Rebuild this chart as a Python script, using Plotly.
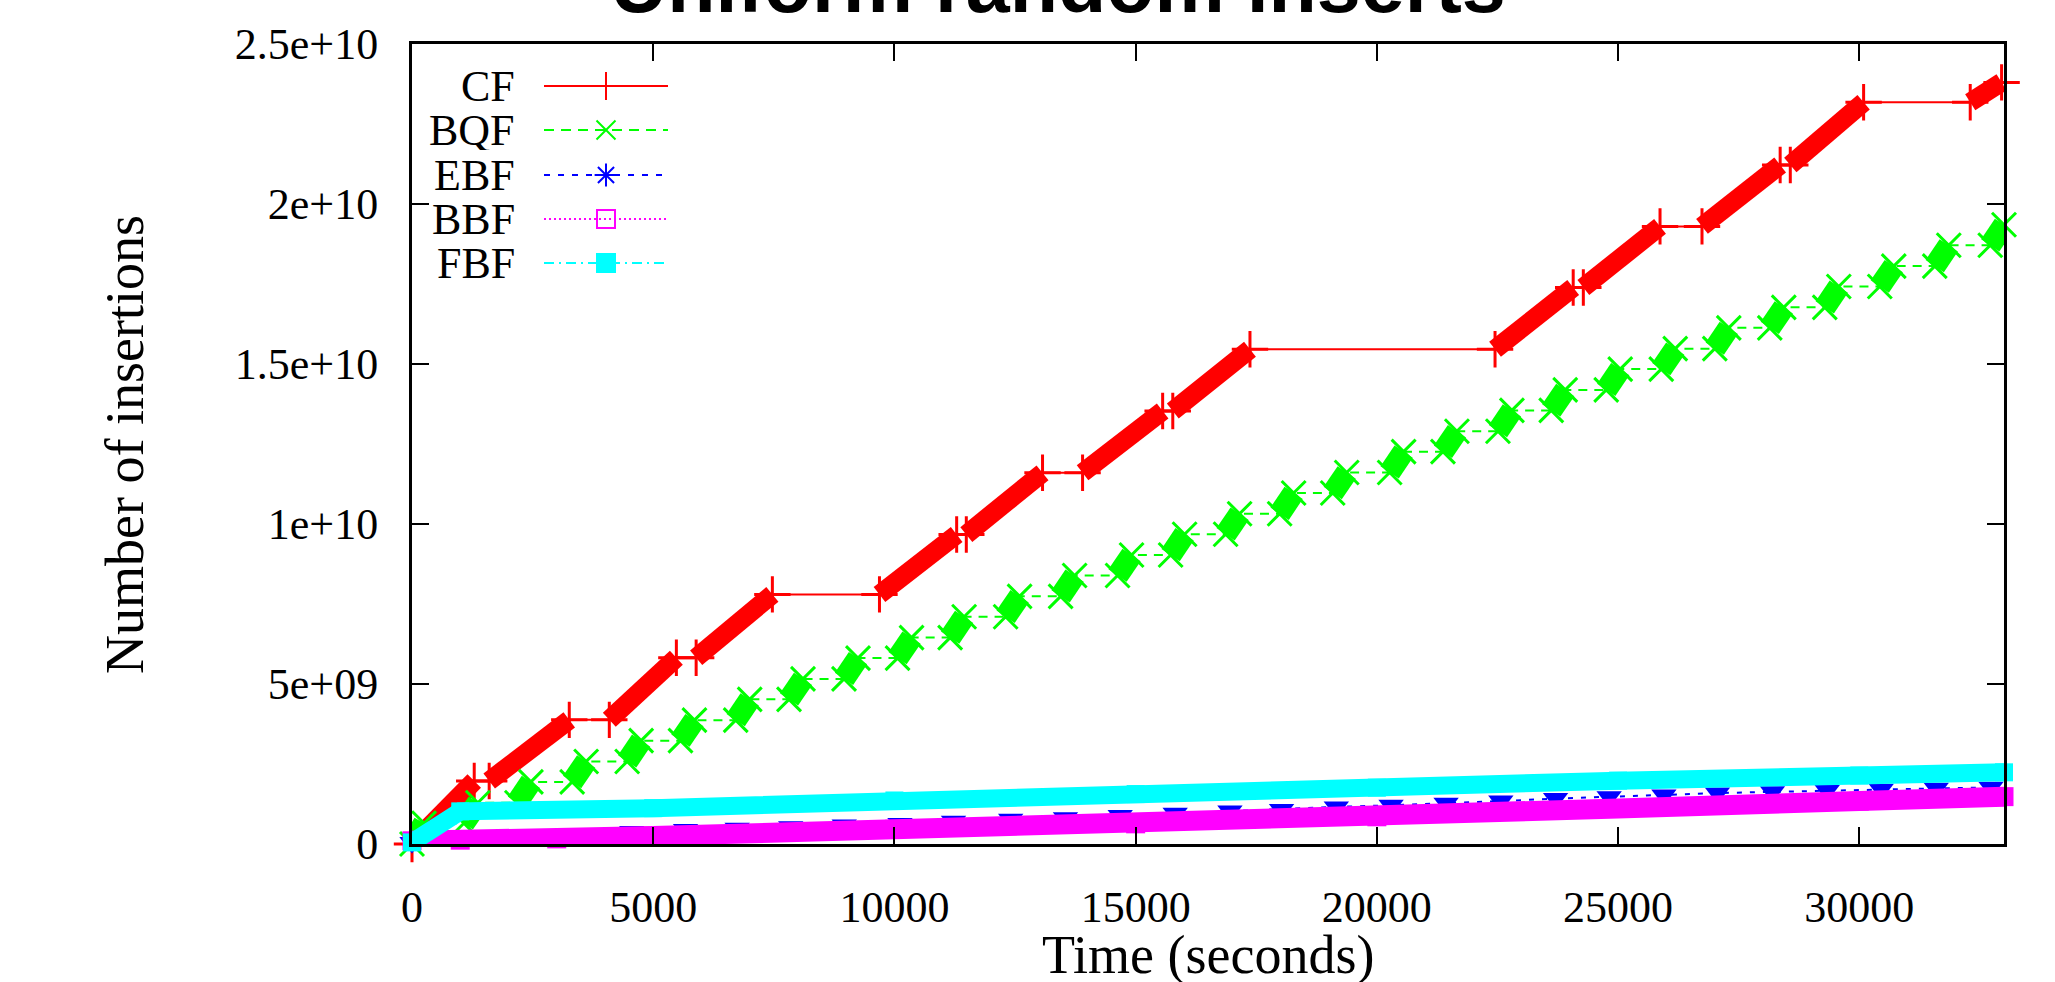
import plotly.graph_objects as go

SCALE = 1e9  # values below are in units of 1e9 insertions

# ---------------- data ----------------
cf_t = [0, 1290, 1600, 3260, 4090, 5480, 5890, 7470, 9690, 11290, 11490, 13070, 13900,
        15560, 15770, 17370, 22450, 24070, 24280, 25870, 26740, 28360, 28570, 30090,
        32300, 32950]
cf_y = [0.00, 1.97, 1.97, 3.88, 3.88, 5.82, 5.82, 7.80, 7.80, 9.67, 9.67, 11.60, 11.60,
        13.53, 13.53, 15.46, 15.46, 17.39, 17.39, 19.30, 19.30, 21.22, 21.22, 23.18,
        23.18, 23.80]

bqf_t = [0, 250, 1075, 1365, 2175, 2465, 3320, 3610, 4460, 4750, 5565, 5855, 6710, 7000,
         7815, 8105, 8955, 9245, 10065, 10355, 11155, 11445, 12305, 12595, 13445, 13735,
         14625, 14915, 15725, 16015, 16865, 17155, 17985, 18275, 19085, 19375, 20265,
         20555, 21370, 21660, 22510, 22800, 23615, 23905, 24755, 25045, 25895, 26185,
         27005, 27295, 28145, 28435, 29285, 29575, 30425, 30715, 31565, 31855, 32715, 33000]
bqf_y = [0.00, 0.65, 0.65, 1.29, 1.29, 1.94, 1.94, 2.58, 2.58, 3.23, 3.23, 3.87,
         3.87, 4.52, 4.52, 5.16, 5.16, 5.81, 5.81, 6.45, 6.45, 7.10, 7.10, 7.74,
         7.74, 8.39, 8.39, 9.03, 9.03, 9.68, 9.68, 10.32, 10.32, 10.97, 10.97, 11.61,
         11.61, 12.26, 12.26, 12.90, 12.90, 13.55, 13.55, 14.19, 14.19, 14.84,
         14.84, 15.48, 15.48, 16.13, 16.13, 16.77, 16.77, 17.42, 17.42, 18.06,
         18.06, 18.71, 18.71, 19.35]

ebf_t = [0, 1220, 2330, 3440, 4555, 5670, 6740, 7850, 8960, 10115, 11225, 12410, 13545,
         14680, 15820, 16955, 18025, 19160, 20295, 21435, 22570, 23705, 24815, 25950,
         27060, 28200, 29335, 30455, 31595, 32730]
ebf_y = [0.05, 0.25, 0.29, 0.33, 0.39, 0.45, 0.49, 0.54, 0.59, 0.64, 0.71, 0.77, 0.82,
         0.89, 0.96, 1.03, 1.08, 1.16, 1.21, 1.27, 1.34, 1.42, 1.48, 1.53, 1.59, 1.63,
         1.67, 1.71, 1.74, 1.77]

bbf_t = [0, 1000, 3000, 5000, 10000, 15000, 20000, 25000, 30000, 33000]
bbf_y = [0.10, 0.12, 0.16, 0.25, 0.46, 0.63, 0.85, 1.11, 1.34, 1.48]

fbf_t = [0, 1000, 5000, 10000, 15000, 20000, 25000, 30000, 33000]
fbf_y = [0.05, 1.02, 1.12, 1.36, 1.56, 1.76, 1.98, 2.14, 2.24]

x_ticks = [0, 5000, 10000, 15000, 20000, 25000, 30000]
y_ticks = [0, 5e9, 1e10, 1.5e10, 2e10, 2.5e10]
y_tick_text = ['0', '5e+09', '1e+10', '1.5e+10', '2e+10', '2.5e+10']
legend_labels = ['CF', 'BQF', 'EBF', 'BBF', 'FBF']

title_text = 'Uniform random inserts'
x_title = 'Time (seconds)'
y_title = 'Number of insertions'

# ---------------- style ----------------
RED, GREEN, BLUE, MAGENTA, CYAN = '#ff0000', '#00ff00', '#0000ff', '#ff00ff', '#00ffff'
SERIF = 'Liberation Serif'
W, H = 2055, 982
ML, MR, MT, MB = 412, 51, 44, 138


def scaled(vals):
    return [v * SCALE for v in vals]


def rises(ts, ys):
    """segments where the series climbs (densely sampled parts, drawn thick)"""
    xs, vs = [], []
    for i in range(len(ts) - 1):
        if ys[i + 1] > ys[i]:
            xs += [ts[i], ts[i + 1], None]
            vs += [ys[i] * SCALE, ys[i + 1] * SCALE, None]
    return xs, vs


fig = go.Figure()

# CF
fig.add_trace(go.Scatter(x=cf_t, y=scaled(cf_y), mode='lines',
                         line=dict(color=RED, width=2), showlegend=False))
rx, ry = rises(cf_t, cf_y)
fig.add_trace(go.Scatter(x=rx, y=ry, mode='lines+markers', cliponaxis=False,
                         line=dict(color=RED, width=19),
                         marker=dict(symbol='cross-thin', size=26, color=RED,
                                     line=dict(color=RED, width=3)),
                         showlegend=False))
# BQF
fig.add_trace(go.Scatter(x=bqf_t, y=scaled(bqf_y), mode='lines',
                         line=dict(color=GREEN, width=2, dash='9px,7px'), showlegend=False))
rx, ry = rises(bqf_t, bqf_y)
fig.add_trace(go.Scatter(x=rx, y=ry, mode='lines+markers', cliponaxis=False,
                         line=dict(color=GREEN, width=22),
                         marker=dict(symbol='x-thin', size=24, color=GREEN,
                                     line=dict(color=GREEN, width=3)),
                         showlegend=False))
# EBF
fig.add_trace(go.Scatter(x=ebf_t, y=scaled(ebf_y), mode='lines+markers', cliponaxis=False,
                         line=dict(color=BLUE, width=2, dash='5px,8px'),
                         marker=dict(symbol='triangle-down', size=22, color=BLUE),
                         showlegend=False))
# BBF
fig.add_trace(go.Scatter(x=bbf_t, y=scaled(bbf_y), mode='lines+markers', cliponaxis=False,
                         line=dict(color=MAGENTA, width=20),
                         marker=dict(symbol='square', size=19, color=MAGENTA),
                         showlegend=False))
# FBF
fig.add_trace(go.Scatter(x=fbf_t, y=scaled(fbf_y), mode='lines+markers', cliponaxis=False,
                         line=dict(color=CYAN, width=18),
                         marker=dict(symbol='square', size=18, color=CYAN),
                         showlegend=False))

# ---------------- gnuplot-style key (text left, sample right) ----------------
# overlay axes in pixel units of the plotting area
row_y = [86, 130, 175, 219, 263]
styles = [
    (RED, 'solid', 'cross-thin', 20),
    (GREEN, '10px,7px', 'x-thin', 19),
    (BLUE, '6px,8px', 'asterisk-open', 19),
    (MAGENTA, '2px,3px', 'square-open', 18),
    (CYAN, '10px,5px,2px,5px', 'square', 18),
]
annotations = []
for lab, ry_, (col, dash, sym, sz) in zip(legend_labels, row_y, styles):
    fig.add_trace(go.Scatter(x=[544, 668], y=[ry_, ry_], xaxis='x2', yaxis='y2',
                             mode='lines', line=dict(color=col, width=2, dash=dash),
                             showlegend=False, hoverinfo='skip'))
    fig.add_trace(go.Scatter(x=[606], y=[ry_], xaxis='x2', yaxis='y2', mode='markers',
                             marker=dict(symbol=sym, size=sz, color=col,
                                         line=dict(color=col, width=2)),
                             showlegend=False, hoverinfo='skip'))
    annotations.append(dict(x=517, y=ry_, xref='x2', yref='y2', text=lab, height=40,
                            showarrow=False, xanchor='right', yanchor='middle',
                            font=dict(family=SERIF, size=44, color='black')))

pw, ph = W - ML - MR, H - MT - MB


def px_x(px):
    return (px - ML) / pw


def px_y(py):
    return (H - MB - py) / ph


annotations.append(dict(x=px_x(1208), y=px_y(955), xref='paper', yref='paper',
                        text=x_title, showarrow=False, xanchor='center', yanchor='middle',
                        height=54,
                        font=dict(family=SERIF, size=54, color='black')))
annotations.append(dict(x=px_x(125), y=px_y(445), xref='paper', yref='paper',
                        text=y_title, showarrow=False, xanchor='center', yanchor='middle',
                        textangle=-90,
                        font=dict(family=SERIF, size=54, color='black')))

axis_common = dict(showline=True, linewidth=3, linecolor='black', mirror='allticks',
                   ticks='inside', ticklen=17, tickwidth=2, tickcolor='black',
                   showgrid=False, zeroline=False,
                   tickfont=dict(family=SERIF, size=44, color='black'))

fig.update_layout(
    width=W, height=H,
    margin=dict(l=ML, r=MR, t=MT, b=MB, pad=0),
    paper_bgcolor='white', plot_bgcolor='white',
    showlegend=False,
    title=dict(text='<b>' + title_text + '</b>', x=1058 / W, xref='container',
               xanchor='center', y=1 - 12 / H, yref='container', yanchor='bottom',
               font=dict(family='Liberation Sans', size=79, color='black')),
    xaxis=dict(range=[0, 33000], tickvals=x_ticks, ticktext=[str(v) for v in x_ticks],
               ticklabelstandoff=22, **axis_common),
    yaxis=dict(range=[0, 2.5e10], tickvals=y_ticks, ticktext=y_tick_text,
               ticklabelstandoff=22, **axis_common),
    xaxis2=dict(overlaying='x', range=[ML, W - MR], visible=False, fixedrange=True),
    yaxis2=dict(overlaying='y', range=[H - MB, MT], visible=False, fixedrange=True),
    annotations=annotations,
)

fig.write_html('out.html')
